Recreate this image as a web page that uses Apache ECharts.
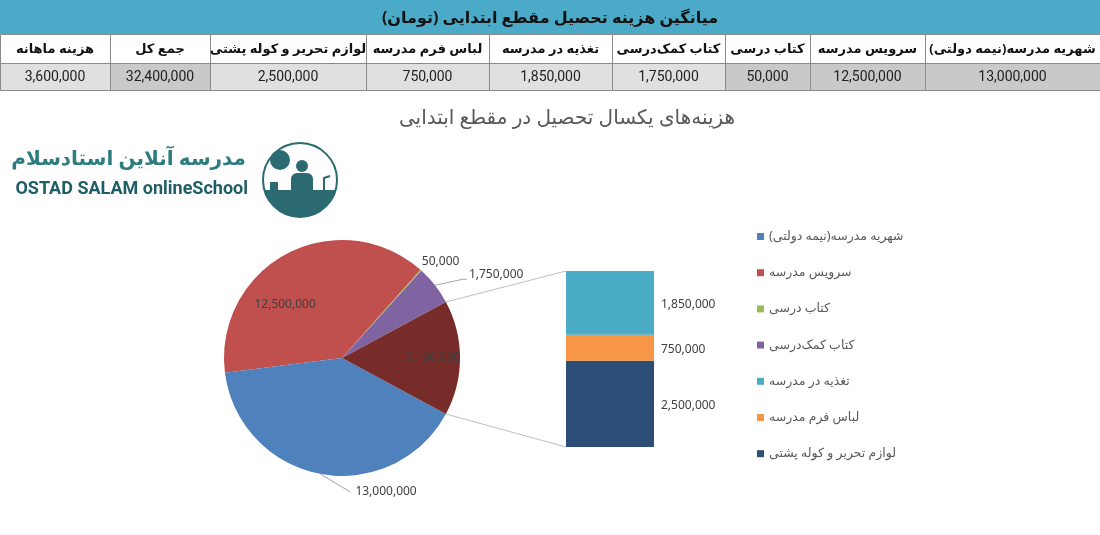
<!DOCTYPE html>
<html>
<head>
<meta charset="utf-8">
<script src="https://cdn.jsdelivr.net/npm/echarts@6/dist/echarts.min.js"></script>
<style>
  html, body { margin: 0; padding: 0; background: #fff; }
  #main { width: 1100px; height: 535px; }
</style>
</head>
<body>
<div id="main" dir="rtl"></div>
<script>
// ---- داده‌ها ----
var tableTitle = 'میانگین هزینه تحصیل مقطع ابتدایی (تومان)';
var tableHeaders = ['شهریه مدرسه(نیمه دولتی)', 'سرویس مدرسه', 'کتاب درسی', 'کتاب کمک‌درسی', 'تغذیه در مدرسه', 'لباس فرم مدرسه', 'لوازم تحریر و کوله پشتی', 'جمع کل', 'هزینه ماهانه'];
var tableValues = [13000000, 12500000, 50000, 1750000, 1850000, 750000, 2500000, 32400000, 3600000];

var chartTitle = 'هزینه‌های یکسال تحصیل در مقطع ابتدایی';
// برش‌های نمودار دایره‌ای (به ترتیب راهنما)
var pieNames = ['شهریه مدرسه(نیمه دولتی)', 'سرویس مدرسه', 'کتاب درسی', 'کتاب کمک‌درسی'];
var pieValues = [13000000, 12500000, 50000, 1750000];
// ستون جدا شده (سایر)
var barNames = ['تغذیه در مدرسه', 'لباس فرم مدرسه', 'لوازم تحریر و کوله پشتی'];
var barValues = [1850000, 750000, 2500000];

var logoFa = 'مدرسه آنلاین استادسلام';
var logoEn = 'OSTAD SALAM onlineSchool';

// ---- رنگ‌ها و چیدمان ----
var pieColors = ['#4F81BD', '#C0504D', '#9BBB59', '#8064A2'];
var otherColor = '#772C2A';
var barColors = ['#4BACC6', '#F79646', '#2C4D75'];
var cellShade = ['#c9c9c9', '#c9c9c9', '#c9c9c9', '#e0e0e0', '#e0e0e0', '#e0e0e0', '#e0e0e0', '#c9c9c9', '#e0e0e0'];
var colEdges = [1100, 925, 810, 725, 612, 489, 366, 210, 110, 0];
var pieCenter = [342, 358];
var pieRadius = 118;
var labelColor = '#404040';
var teal = '#2A6A70';
var font = '"Noto Sans", "DejaVu Sans", sans-serif';

function fmt(v) { return v.toLocaleString('en-US'); }

var otherValue = barValues.reduce(function (a, b) { return a + b; }, 0);
var pieTotal = pieValues.reduce(function (a, b) { return a + b; }, 0) + otherValue;
var startAngle = otherValue / pieTotal * 180;

const myChart = echarts.init(document.getElementById('main'));

// داده‌های دایره: خلاف عقربه از لبه بالای برش «سایر»
var pieData = [];
for (var i = pieNames.length - 1; i >= 0; i--) {
    var item = { name: pieNames[i], value: pieValues[i], itemStyle: { color: pieColors[i] } };
    if (i === 1) {
        item.label = { position: 'inside', offset: [-28, 1] };
    }
    if (i === 2) {
        item.labelLine = { show: false };
    }
    pieData.push(item);
}
pieData.push({
    name: 'سایر', value: otherValue, itemStyle: { color: otherColor },
    label: { position: 'inside', offset: [29, 0] }
});

// جدول بالای صفحه
var graphics = [];
graphics.push({
    type: 'rect', shape: { x: 0, y: 0, width: 1100, height: 34 },
    style: { fill: '#4BAAC7' }
});
graphics.push({
    type: 'text', x: 550, y: 18,
    style: { text: tableTitle, fontSize: 16, fontWeight: 'bold', fontFamily: font, fill: '#111', align: 'center', verticalAlign: 'middle' }
});
for (var c = 0; c < tableHeaders.length; c++) {
    var x0 = colEdges[c + 1], x1 = colEdges[c];
    graphics.push({
        type: 'rect', shape: { x: x0 + 0.5, y: 34.5, width: x1 - x0, height: 29 },
        style: { fill: '#fff', stroke: '#8a8a8a', lineWidth: 1 }
    });
    graphics.push({
        type: 'rect', shape: { x: x0 + 0.5, y: 63.5, width: x1 - x0, height: 27 },
        style: { fill: cellShade[c], stroke: '#8a8a8a', lineWidth: 1 }
    });
    graphics.push({
        type: 'text', x: (x0 + x1) / 2, y: 49,
        style: { text: tableHeaders[c], fontSize: 13, fontWeight: 'bold', fontFamily: font, fill: '#111', align: 'center', verticalAlign: 'middle' }
    });
    graphics.push({
        type: 'text', x: (x0 + x1) / 2, y: 77,
        style: { text: fmt(tableValues[c]), fontSize: 14, fontFamily: 'Roboto, sans-serif', fill: '#222', align: 'center', verticalAlign: 'middle' }
    });
}

// عنوان نمودار
graphics.push({
    type: 'text', x: 567, y: 118,
    style: { text: chartTitle, fontSize: 20, fontFamily: font, fill: '#595959', align: 'center', verticalAlign: 'middle' }
});

// لوگو
graphics.push({
    type: 'text', x: 246, y: 159,
    style: { text: logoFa, fontSize: 20, fontWeight: 'bold', fontFamily: font, fill: '#2D7C80', align: 'right', verticalAlign: 'middle' }
});
graphics.push({
    type: 'text', x: 248, y: 189,
    style: { text: logoEn, fontSize: 18, fontWeight: 'bold', fontFamily: 'Roboto, sans-serif', fill: '#1E5E66', align: 'right', verticalAlign: 'middle' }
});
graphics.push({
    type: 'circle', shape: { cx: 300, cy: 180, r: 37 },
    style: { fill: '#fff', stroke: teal, lineWidth: 2 }
});
// بخش پایین دایره (میز)
var deskPts = [];
var ang0 = Math.asin(10 / 37);
for (var k = 0; k <= 24; k++) {
    var t = ang0 + (Math.PI - 2 * ang0) * k / 24;
    deskPts.push([300 + 37 * Math.cos(t), 180 + 37 * Math.sin(t)]);
}
graphics.push({ type: 'polygon', shape: { points: deskPts }, style: { fill: teal } });
graphics.push({ type: 'circle', shape: { cx: 302, cy: 166, r: 6 }, style: { fill: teal } });
graphics.push({ type: 'rect', shape: { x: 291, y: 173, width: 22, height: 18, r: [6, 6, 0, 0] }, style: { fill: teal } });
graphics.push({ type: 'circle', shape: { cx: 280, cy: 160, r: 10 }, style: { fill: teal } });
graphics.push({ type: 'rect', shape: { x: 270, y: 182, width: 8, height: 8 }, style: { fill: teal } });
graphics.push({
    type: 'polyline', shape: { points: [[324, 190], [324, 178], [330, 176]] },
    style: { stroke: teal, lineWidth: 2, fill: null }
});

var option = {
    animation: false,
    textStyle: { fontFamily: font },
    legend: {
        orient: 'vertical',
        left: 752,
        top: 225,
        itemWidth: 7,
        itemHeight: 7,
        itemGap: 23.2,
        icon: 'rect',
        data: pieNames.concat(barNames),
        textStyle: { color: '#595959', fontSize: 12.5, fontFamily: font }
    },
    grid: { left: 566, top: 271, width: 88, height: 176 },
    xAxis: { type: 'category', data: [''], show: false },
    yAxis: { type: 'value', min: 0, max: otherValue, show: false },
    graphic: graphics,
    series: [
        {
            type: 'pie',
            center: pieCenter,
            radius: pieRadius,
            clockwise: false,
            startAngle: startAngle,
            avoidLabelOverlap: false,
            label: {
                position: 'outside',
                color: labelColor,
                fontSize: 12,
                formatter: function (p) { return fmt(p.value); }
            },
            labelLine: { lineStyle: { color: '#a6a6a6', width: 1 } },
            labelLayout: function (p) {
                var pts = p.labelLinePoints;
                var name = pieData[p.dataIndex].name;
                if (!pts || !pts.length) return {};
                var e = pts[0];
                if (name === pieNames[0]) {
                    var m = [e[0] + 30, e[1] + 18];
                    return { x: m[0] + 5, y: m[1], align: 'left', verticalAlign: 'middle', labelLinePoints: [e, m, m] };
                }
                if (name === pieNames[2]) {
                    return { x: e[0] + 1, y: e[1] - 9, align: 'left', verticalAlign: 'middle' };
                }
                if (name === pieNames[3]) {
                    var m2 = [e[0] + 28, e[1] - 6];
                    return { x: m2[0] + 6, y: m2[1] - 5, align: 'left', verticalAlign: 'middle', labelLinePoints: [e, m2, [m2[0] + 4, m2[1]]] };
                }
                return {};
            },
            emphasis: { disabled: true },
            data: pieData
        }
    ].concat(barNames.slice().reverse().map(function (n) {
        var idx = barNames.indexOf(n);
        return {
            name: n,
            type: 'bar',
            stack: 'other',
            barWidth: '100%',
            itemStyle: { color: barColors[idx] },
            label: {
                show: true,
                position: 'right',
                distance: 7,
                color: labelColor,
                fontSize: 12,
                offset: [0, 2],
                formatter: function (p) { return fmt(p.value); }
            },
            emphasis: { disabled: true },
            data: [barValues[idx]]
        };
    }))
};

myChart.setOption(option);

// خطوط اتصال دایره به ستون
var a = startAngle * Math.PI / 180;
var edgeX = pieCenter[0] + pieRadius * Math.cos(a);
var edgeTop = pieCenter[1] - pieRadius * Math.sin(a);
var edgeBottom = pieCenter[1] + pieRadius * Math.sin(a);
var rect = myChart.getModel().getComponent('grid', 0).coordinateSystem.getRect();
var barTop = myChart.convertToPixel({ yAxisIndex: 0 }, otherValue);
var barBottom = myChart.convertToPixel({ yAxisIndex: 0 }, 0);
myChart.setOption({
    graphic: graphics.concat([
        { type: 'line', shape: { x1: edgeX, y1: edgeTop, x2: rect.x, y2: barTop }, style: { stroke: '#bfbfbf', lineWidth: 1 } },
        { type: 'line', shape: { x1: edgeX, y1: edgeBottom, x2: rect.x, y2: barBottom }, style: { stroke: '#bfbfbf', lineWidth: 1 } }
    ])
});
</script>
</body>
</html>
